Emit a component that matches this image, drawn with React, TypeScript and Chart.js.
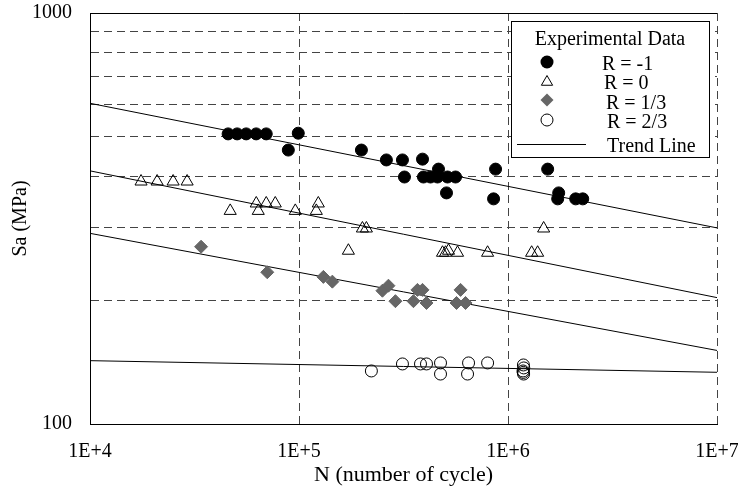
import React, { useEffect, useRef } from 'react';
import { Chart, registerables } from 'chart.js';

Chart.register(...registerables);

// ---- axis ticks ----
const xTickValues = [1e4, 1e5, 1e6, 1e7];
const xTickLabels = ['1E+4', '1E+5', '1E+6', '1E+7'];
const yTickValues = [100, 200, 300, 400, 500, 600, 700, 800, 900, 1000];
const yLabelledTicks = [100, 1000];

const xTitle = 'N (number of cycle)';
const yTitle = 'Sa (MPa)';
const legendTitle = 'Experimental Data';
const seriesLabels = ['R = -1', 'R = 0', 'R = 1/3', 'R = 2/3'];
const trendLabel = 'Trend Line';

// ---- data: R = -1 ----
const rNeg1N = [45800, 50600, 55900, 62400, 69700, 99200, 88900, 198900, 261900, 312600, 319600, 389900, 394000, 425700, 459900, 465000, 513500, 561000, 507800, 872000, 853000, 1548000, 1748000, 1729000, 2108000, 2278000];
const rNeg1S = [508, 508, 508, 508, 508, 510, 464, 464, 439, 439, 399, 441, 399, 399, 399, 417, 399, 399, 365, 417, 353, 417, 365, 353, 353, 353];

// ---- data: R = 0 ----
const r0N = [17550, 20950, 24990, 29160, 46870, 62440, 69700, 76990, 63830, 96000, 123700, 121000, 201100, 210100, 172300, 486000, 502300, 519200, 573500, 798700, 1297600, 1386000, 1481000];
const r0S = [389, 389, 389, 389, 330, 344, 344, 344, 330, 330, 344, 330, 299, 299, 264, 261, 261, 264, 261, 261, 261, 261, 299];

// ---- data: R = 1/3 ----
const r13N = [34000, 70500, 130800, 144400, 250700, 267900, 289300, 352900, 368800, 389800, 407400, 592900, 567200, 626400];
const r13S = [270, 234, 228, 222, 211, 217, 199, 199, 212, 212, 197, 212, 197, 197];

// ---- data: R = 2/3 ----
const r23N = [222000, 312600, 381300, 407400, 475400, 475400, 647500, 640400, 798700, 1185000, 1190000, 1180000, 1188000, 1183000];
const r23S = [134.6, 140, 140, 140, 140.8, 132.3, 140.8, 132.3, 140.8, 139.2, 136.9, 134.6, 132.3, 133.5];

// ---- trend lines ----
const trendN = [1e4, 1e7];
const trendNeg1 = [603, 300];
const trend0 = [413, 203];
const trend13 = [291, 151];
const trend23 = [142.6, 133.6];

const FONT = "'Liberation Serif', 'Times New Roman', serif";
const GRAY = '#666666';

const pts = (xs: number[], ys: number[]) => xs.map((x, i) => ({ x, y: ys[i] }));

function drawMarker(ctx: CanvasRenderingContext2D, kind: number, x: number, y: number) {
  ctx.save();
  ctx.lineWidth = 1;
  ctx.strokeStyle = '#000';
  ctx.beginPath();
  if (kind === 0) {
    ctx.arc(x, y, 6.5, 0, Math.PI * 2);
    ctx.fillStyle = '#000';
    ctx.fill();
  } else if (kind === 1) {
    const r = 6.5;
    ctx.moveTo(x, y - r);
    ctx.lineTo(x + r * 0.866, y + r / 2);
    ctx.lineTo(x - r * 0.866, y + r / 2);
    ctx.closePath();
    ctx.stroke();
  } else if (kind === 2) {
    const r = 6.5;
    ctx.moveTo(x - r, y);
    ctx.lineTo(x, y - r);
    ctx.lineTo(x + r, y);
    ctx.lineTo(x, y + r);
    ctx.closePath();
    ctx.fillStyle = GRAY;
    ctx.fill();
  } else {
    ctx.arc(x, y, 6, 0, Math.PI * 2);
    ctx.stroke();
  }
  ctx.restore();
}

const framePlugin = {
  id: 'frameLegend',
  afterDraw(chart: any) {
    const { ctx, chartArea: a } = chart;
    ctx.save();
    // top frame line (solid)
    const topY = Math.round(a.top) + 0.5;
    ctx.strokeStyle = '#000';
    ctx.lineWidth = 1;
    ctx.beginPath();
    ctx.moveTo(a.left, topY);
    ctx.lineTo(a.right, topY);
    ctx.stroke();

    // legend box
    const bx = 511.5, by = 21.5, bw = 198, bh = 136;
    ctx.fillStyle = '#fff';
    ctx.fillRect(bx, by, bw, bh);
    ctx.strokeStyle = '#000';
    ctx.strokeRect(bx, by, bw, bh);

    ctx.fillStyle = '#000';
    ctx.font = `20px ${FONT}`;
    ctx.textBaseline = 'alphabetic';
    ctx.textAlign = 'center';
    ctx.fillText(legendTitle, 610, 44.5);

    const rowY = [62, 82, 100, 120];
    const textBase = [70, 89, 108.5, 127.5];
    const textX = [602, 604, 606, 607];
    ctx.textAlign = 'left';
    for (let i = 0; i < 4; i++) {
      drawMarker(ctx, i, 547, rowY[i]);
      ctx.fillStyle = '#000';
      ctx.fillText(seriesLabels[i], textX[i], textBase[i]);
    }
    ctx.beginPath();
    ctx.moveTo(517, 144.5);
    ctx.lineTo(586, 144.5);
    ctx.strokeStyle = '#000';
    ctx.stroke();
    ctx.fillText(trendLabel, 607, 151.5);
    ctx.restore();
  },
};

export default function App() {
  const ref = useRef<HTMLCanvasElement | null>(null);
  useEffect(() => {
    if (!ref.current) return;
    const trendDs = (data: number[]) => ({
      type: 'scatter' as const,
      data: pts(trendN, data),
      showLine: true,
      borderColor: '#000',
      borderWidth: 1,
      pointRadius: 0,
      order: 10,
      label: trendLabel,
    });
    const chart = new Chart(ref.current, {
      type: 'scatter',
      data: {
        datasets: [
          trendDs(trendNeg1),
          trendDs(trend0),
          trendDs(trend13),
          trendDs(trend23),
          {
            label: seriesLabels[0],
            data: pts(rNeg1N, rNeg1S),
            pointStyle: 'circle',
            pointRadius: 6,
            backgroundColor: '#000',
            borderColor: '#000',
            borderWidth: 1,
            order: 1,
          },
          {
            label: seriesLabels[1],
            data: pts(r0N, r0S),
            pointStyle: 'triangle',
            pointRadius: 7,
            backgroundColor: 'rgba(0,0,0,0)',
            borderColor: '#000',
            borderWidth: 1,
            order: 1,
          },
          {
            label: seriesLabels[2],
            data: pts(r13N, r13S),
            pointStyle: 'rectRot',
            pointRadius: 6.5,
            backgroundColor: GRAY,
            borderColor: GRAY,
            borderWidth: 1,
            order: 1,
          },
          {
            label: seriesLabels[3],
            data: pts(r23N, r23S),
            pointStyle: 'circle',
            pointRadius: 6,
            backgroundColor: 'rgba(0,0,0,0)',
            borderColor: '#000',
            borderWidth: 1,
            order: 1,
          },
        ],
      },
      options: {
        animation: false,
        responsive: false,
        devicePixelRatio: 1,
        layout: { padding: { left: 0, right: 21, top: 13, bottom: 0 } },
        plugins: { legend: { display: false }, tooltip: { enabled: false } },
        scales: {
          x: {
            type: 'logarithmic',
            position: 'bottom',
            min: 1e4,
            max: 1e7,
            afterBuildTicks: (s: any) => {
              s.ticks = xTickValues.map((v) => ({ value: v }));
            },
            afterFit: (s: any) => {
              s.height = 64;
              s.paddingLeft = 0;
              s.paddingRight = 0;
            },
            ticks: {
              autoSkip: false,
              maxRotation: 0,
              color: '#000',
              padding: 16,
              font: { family: FONT, size: 20 },
              callback: (v: any) => {
                const i = xTickValues.indexOf(Number(v));
                return i >= 0 ? xTickLabels[i] : '';
              },
            },
            grid: { color: '#444', lineWidth: 1, drawTicks: false },
            border: { display: true, color: '#000', width: 1, dash: [8, 5] },
            title: {
              display: true,
              text: xTitle,
              color: '#000',
              font: { family: FONT, size: 22 },
              padding: { top: 0, bottom: 0 },
            },
          },
          y: {
            type: 'logarithmic',
            position: 'left',
            min: 100,
            max: 1000,
            afterBuildTicks: (s: any) => {
              s.ticks = yTickValues.map((v) => ({ value: v }));
            },
            afterFit: (s: any) => {
              s.width = 90;
              s.paddingTop = 0;
              s.paddingBottom = 0;
            },
            ticks: {
              autoSkip: false,
              color: '#000',
              padding: 18,
              font: { family: FONT, size: 20 },
              callback: (v: any) => (yLabelledTicks.includes(Number(v)) ? String(v) : ''),
            },
            grid: { color: '#444', lineWidth: 1, drawTicks: false },
            border: { display: true, color: '#000', width: 1, dash: [8, 5] },
            title: {
              display: true,
              text: yTitle,
              color: '#000',
              font: { family: FONT, size: 20 },
              padding: { top: 9, bottom: 0 },
            },
          },
        },
      },
      plugins: [framePlugin],
    } as any);
    return () => chart.destroy();
  }, []);

  return (
    <div style={{ position: 'fixed', left: 0, top: 0, width: 738, height: 488, background: '#fff' }}>
      <canvas ref={ref} width={738} height={488} style={{ display: 'block', width: 738, height: 488 }} />
    </div>
  );
}
